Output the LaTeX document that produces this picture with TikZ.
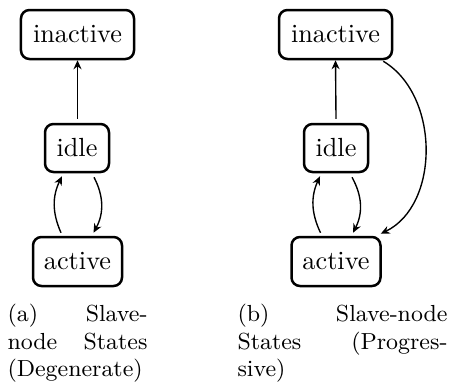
\documentclass[tikz,border=0pt]{standalone}
\usetikzlibrary{arrows.meta,calc}
\begin{document}
\begin{tikzpicture}[x=0.4pt,y=-0.4pt,
  state/.style={draw,line width=1pt,rounded corners=3.4pt,inner sep=0pt,
    minimum height=19.6pt,font=\fontsize{10.5}{12}\selectfont},
  trans/.style={line width=0.55pt,-{Stealth[length=3.6pt,width=3.2pt]}},
  capt/.style={anchor=north west,inner sep=0pt,align=left,
    font=\fontsize{9.3}{11}\selectfont}]
\useasboundingbox (0,0) rectangle (451,387);

% (a) degenerate slave-node states
\node[state,minimum width=45.2pt] (inA) at (77.5,34.5) {inactive};
\node[state,minimum width=25.6pt,minimum height=19.2pt] (idA) at (77,148) {idle};
\node[state,minimum width=35.6pt] (acA) at (77.5,261.5) {active};

\draw[trans] ($(idA.north)+(0.5,-4)$) -- (inA.south);
\draw[trans] ($(acA.north)+(-16.5,-3)$) to[bend left=25] ($(idA.south)+(-15,3)$);
\draw[trans] ($(idA.south)+(17,4)$) to[bend left=28] ($(acA.north)+(16,-3)$);

% (b) progressive slave-node states
\node[state,minimum width=45.2pt] (inB) at (335.5,34.5) {inactive};
\node[state,minimum width=25.6pt,minimum height=19.2pt] (idB) at (336,148) {idle};
\node[state,minimum width=35.6pt] (acB) at (336,261.5) {active};

\draw[trans] ($(idB.north)+(0,-4)$) -- (inB.south);
\draw[trans] ($(acB.north)+(-15.5,-3)$) to[bend left=25] ($(idB.south)+(-16,3)$);
\draw[trans] ($(idB.south)+(16,4)$) to[bend left=28] ($(acB.north)+(17,-3)$);
\draw[trans] ($(inB.south east)+(-10,1)$) .. controls (440,95) and (440,205)
  .. ($(acB.north east)+(-1,-2)$);

% sub-captions
\node[capt,text width=56pt] (capA) at (7,304)
  {(a)\hfill Slave-\\ node\hfill States\\ (Degenerate)};
\node[capt,text width=84pt] (capB) at (237,304)
  {(b)\hfill Slave-node\\ States\hfill (Progres-\\ sive)};
\end{tikzpicture}
\end{document}
